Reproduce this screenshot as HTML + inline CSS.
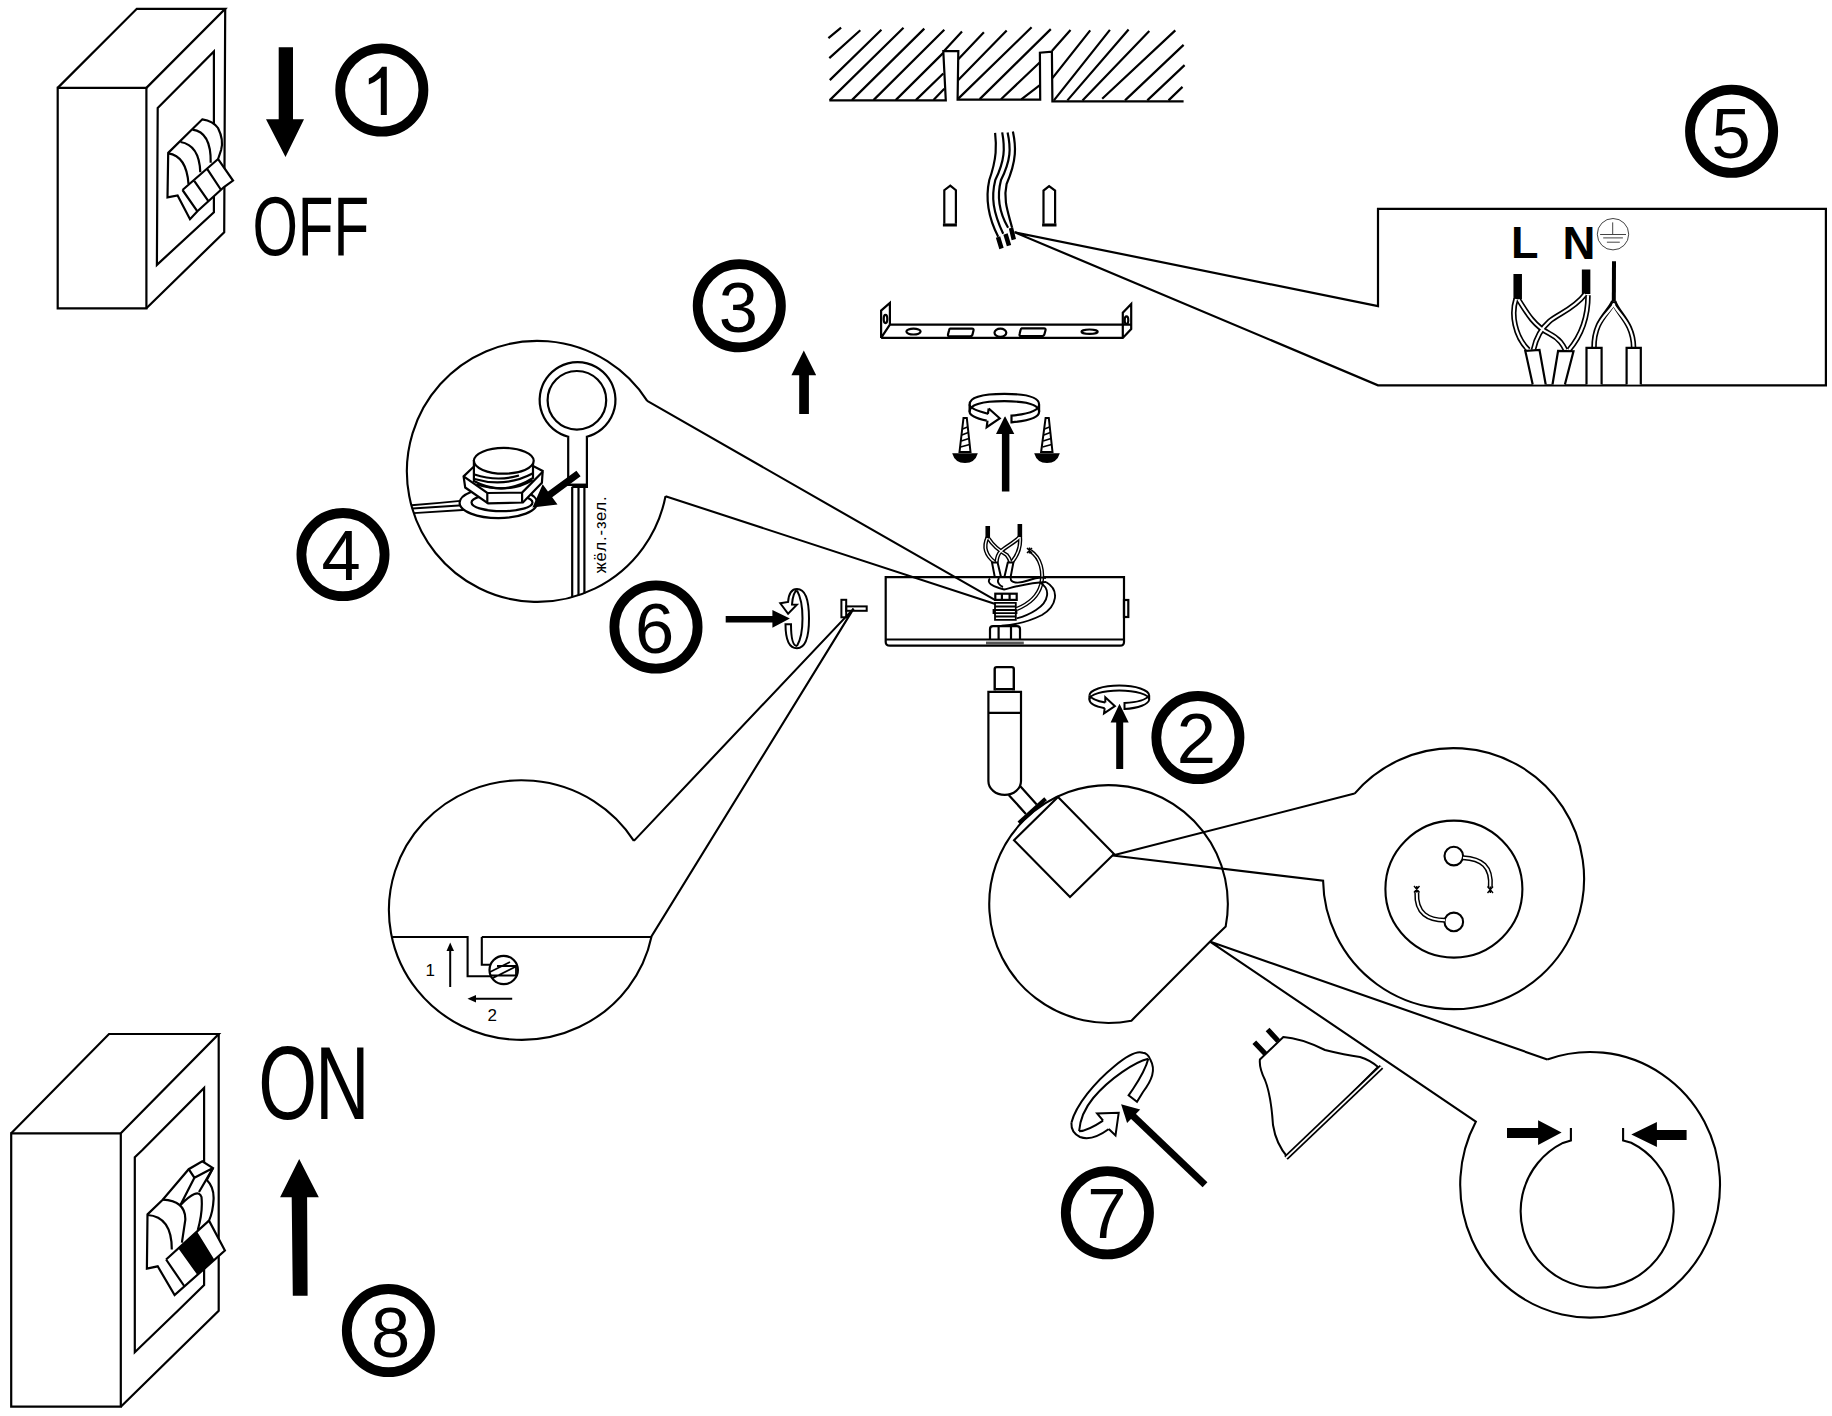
<!DOCTYPE html>
<html><head><meta charset="utf-8">
<style>
html,body{margin:0;padding:0;background:#fff;width:1832px;height:1416px;overflow:hidden}
svg{display:block}
text{font-family:"Liberation Sans",sans-serif}
</style></head><body>
<svg width="1832" height="1416" viewBox="0 0 1832 1416">
<rect width="1832" height="1416" fill="#fff"/>
<g fill="none" stroke="#000" stroke-width="2.2" stroke-linejoin="miter">
<!-- SWITCH 1 -->
<g id="sw1">
<path d="M57.7,87.9 H146.4 V308.3 H57.7 Z"/>
<path d="M57.7,87.9 L136.8,8.8 H225.2 L146.4,87.9"/>
<path d="M225.2,8.8 L224.2,232.2 L146.4,308.3"/>
<path d="M157.7,108 L213.9,51.5 V212.2 L156.9,264.9 Z"/>
<path d="M168.2,152.9 L202.3,119.3 Q213.2,121 218,128 Q224,140 221.1,150 L218.1,159 L233,180.6 L224,187 L197.4,211.3 L190,219.2 L177.6,195.4 L167.5,197.4 Z" fill="#fff"/>
<path d="M168.2,153.4 Q186.5,156 188.5,184 M180.5,142 Q199.3,145 200.3,172.2 M192.4,129.7 Q211.2,132 210.7,162.8"/>
<path d="M182.5,190 L218.1,159 M182.5,190 L197.4,211.3 M194.4,181.1 L208.2,200.9 M207.3,169.2 L221.1,190"/>
</g>
<!-- SWITCH 8 -->
<g id="sw8">
<path d="M11.2,1133.3 H120.8 V1406.7 H11.2 Z"/>
<path d="M11.2,1133.3 L109,1034 H218.7 L120.8,1133.3"/>
<path d="M218.7,1034 V1310.8 L120.8,1406.7"/>
<path d="M134.8,1157.3 L142.4,1150 L204.1,1088 V1285 L178.6,1310 L134.8,1352.2 Z"/>
<path d="M147.5,1214.4 L162.7,1199.7 L188.7,1169.2 L202.3,1161.3 L213,1168.1 L206.8,1180 Q214,1187 213.6,1199 Q213,1212 209,1220.6 L224.9,1250.5 L174.6,1295.1 L157.7,1266.3 L146.9,1268.6 Z" fill="#fff"/>
<path d="M179.7,1248.3 L196.6,1233 L213,1259.5 L197.8,1273.7 Z" fill="#000"/>
<path d="M166.1,1259.5 L209,1220.6 M166.1,1259.5 L184.2,1286 M147.5,1215 Q171.8,1216.6 171.8,1249.4 M162.7,1199.7 Q186,1201 185.3,1220 L181.9,1242.6 M180.3,1205.3 Q198,1187 201.5,1197 Q203,1212 197.8,1230 M188.7,1169.2 L194.4,1177.7 L213,1168.1 M194.4,1177.7 L180.3,1205.3 M213,1168.1 L199,1192"/>
</g>

<!-- ARROWS solid -->
<g fill="#000" stroke="none">
<path d="M278.7,47.2 H293 V119.3 H304 L285.5,157 L266,119.3 H278.7 Z"/>
<path d="M292.8,1295.8 L291.7,1197.2 H280.1 L299.2,1159 L318.8,1197.2 H307.1 L307.6,1295.8 Z"/>
<path d="M799.2,414 V375.3 H791.4 L803.8,350.4 L816.2,375.3 H808.9 V414 Z"/>
<path d="M1001.9,491.4 V434.1 H996 L1005,415.9 L1014.3,434.1 H1009.4 V491.4 Z"/>
<path d="M1116.2,769 V722.4 H1110.6 L1119.5,703.8 L1128.7,722.4 H1123.2 V769 Z"/>
<path d="M725.7,616 H772.4 V609.9 L789.9,618.6 L772.4,627.8 V622.6 H725.7 Z"/>
</g>
<!-- CIRCLED NUMBERS -->
<g stroke-width="9.8">
<circle cx="381.8" cy="90" r="41.6"/>
<circle cx="1731.6" cy="131.3" r="41.6"/>
<circle cx="739.3" cy="305.8" r="41.6"/>
<circle cx="343" cy="554.6" r="41.6"/>
<circle cx="656" cy="627" r="41.6"/>
<circle cx="1197.9" cy="737.6" r="41.6"/>
<circle cx="1107.4" cy="1212.8" r="41.6"/>
<circle cx="388.4" cy="1330.6" r="41.6"/>
</g>
<g fill="#000" stroke="none" font-size="70.5" text-anchor="middle">
<path d="M380.8,66.7 H386.8 V114.9 H380.8 V77.6 Q375,82.5 368.8,84.5 V78.5 Q376.5,75 382,66.7 Z"/>
<text x="1731.2" y="157.8">5</text>
<text x="738.4" y="332">3</text>
<text x="341.2" y="580.2">4</text>
<text x="654.7" y="653.2">6</text>
<text x="1196.4" y="762.8">2</text>
<text x="1106.9" y="1238.4">7</text>
<text x="390.7" y="1357">8</text>
<text transform="translate(252.4,255) scale(0.70,1)" font-size="83.5" text-anchor="start">OFF</text>
<text transform="translate(258.3,1119) scale(0.727,1)" font-size="104" letter-spacing="-3" text-anchor="start">ON</text>
</g>

<!-- CEILING -->
<g id="ceiling">
<path d="M829.3,100.4 H945.8 L943.3,51.2 H958.3 L957.6,99.7 H1040.2 L1039.9,52.7 L1051.9,51.6 L1052.4,101.4 H1183.6"/>
<path d="M828.4,38.2 L841.1,27.7 M829.3,58.1 L860.3,30.3 M829.8,80.1 L881.4,29.8 M829.8,100.1 L903.5,27.7 M851.9,100.1 L924.3,28.6 M873.5,100.1 L944.3,29.8 M895.7,100.1 L943.3,52.9 M915.8,100.1 L943.3,73.5 M933.5,100.1 L944.3,88.8 M943.8,51.2 L962,31.6 M958.3,59.3 L983.9,32.3 M958.3,79.9 L1006.7,30.4 M958.3,98.6 L1031.6,27.3 M979.7,99.1 L1050.8,29.1 M1001,99.3 L1040.2,62 M1021.3,99.3 L1040.2,84.8 M1051.9,51.1 L1070.5,29.9 M1052.4,78.1 L1090.2,30.4 M1053.9,100.4 L1109.9,29.9 M1067.4,100.4 L1128.6,29.5 M1082.5,100.4 L1149.3,30.9 M1102.2,98.8 L1175.3,30.4 M1125,100.4 L1183.6,44.9 M1147.3,100.4 L1184.6,65.1 M1168.5,100.4 L1182.5,86.9"/>
</g>
<!-- DOWELS -->
<path d="M944.3,223.8 V190.2 L950.3,185.7 L955.9,190.2 V223.8 M1043.5,223.8 V190.6 L1049.1,186.2 L1055.1,190.6 V223.8"/>
<path d="M942.9,225 H956.9 M1042.1,225 H1056.5" stroke-width="3"/>
<!-- WIRES -->
<g stroke-width="2.2">
<path d="M995.1,132.9 C996.5,145 997,158 989.3,180 C986,195 987,215 998.2,236.7"/>
<path d="M1002.2,132.4 C1005,148 1005,160 995.3,180 C991,197 993,212 1003.2,233.7"/>
<path d="M1007.6,132.4 C1011,148 1011,160 1001,180 C997,195 999,212 1008.1,227.8"/>
<path d="M1012.9,131.4 C1016,146 1017,160 1006.6,184 C1003,200 1008,212 1012.1,227.8"/>
</g>
<path d="M998,237 L1001.5,248.5 M1005.5,234 L1009,245.6 M1011,228 L1013.8,239.6" stroke-width="4.5"/>
<!-- BRACKET -->
<g stroke-width="2.2">
<path d="M881.1,337.9 H1122.8 L1131.2,329 V304 L1122.8,312.8 V337.9 M881.1,337.9 L889.9,324.6 H1130.9 M881.1,337.9 V310.6 L889.9,303 V324.6"/>
<ellipse cx="885.5" cy="319" rx="1.8" ry="4.1"/>
<ellipse cx="1126.5" cy="320.2" rx="1.8" ry="3.8"/>
<ellipse cx="913.5" cy="331.6" rx="7.1" ry="2.9"/>
<path d="M950,328.6 H972 Q974,328.6 973.5,330.5 L972.5,334.5 Q972,336.4 970,336.4 H949.5 Q947.6,336.4 948,334.5 L949,330.5 Q949.3,328.6 950,328.6 Z"/>
<ellipse cx="1000.4" cy="332.7" rx="5.9" ry="4.1"/>
<path d="M1021.5,328.3 H1044 Q1046,328.3 1045.5,330.3 L1044.5,334 Q1044,336 1042,336 H1021 Q1019,336 1019.6,334 L1020.5,330.3 Q1021,328.3 1021.5,328.3 Z"/>
<ellipse cx="1089.6" cy="331.7" rx="8.1" ry="2.2"/>
</g>
<!-- BOX 5 -->
<path d="M1014.5,232.2 L1378,306.2 V208.8 H1825.9 V385.3 H1378 L1014.5,232.2"/>

<!-- BOX 5 internals -->
<g fill="#000" stroke="none" font-weight="bold">
<text x="1511" y="257.5" font-size="45">L</text>
<text x="1562.5" y="259" font-size="45.6">N</text>
</g>
<g stroke-width="1" stroke="#444">
<circle cx="1613" cy="234.2" r="15.7"/>
<path d="M1612.7,222.4 V234.5 M1600.1,234.5 H1626 M1603.2,237.9 H1622.9 M1606.9,242.2 H1619.8"/>
</g>
<path d="M1517.7,274 V299 M1586.1,269.4 V294.1" stroke-width="8.5"/>
<path d="M1614,261.3 L1613.8,301.5" stroke-width="4"/>
<g id="w5" stroke-width="5.5">
<path d="M1516,299 C1511,313.8 1514.5,336.1 1528.5,350"/>
<path d="M1518.5,299.5 C1527.2,313.8 1534.6,326.2 1549.4,333.6 C1560,339 1563,345 1565.5,350"/>
<path d="M1585.2,294.1 C1574.1,308.9 1558.1,313.8 1549.4,321.3 C1540.8,328.7 1535.8,338.5 1533.4,350"/>
<path d="M1588,295.3 C1588,313.8 1584,332.4 1569,350"/>
<path d="M1613.7,301.5 C1608.7,313.8 1593.9,320 1594,348"/>
<path d="M1613.7,301.5 C1617.4,313.8 1633.4,322.5 1633.6,348"/>
</g>
<g stroke="#fff" stroke-width="2.2">
<path d="M1516,299 C1511,313.8 1514.5,336.1 1528.5,350"/>
<path d="M1518.5,299.5 C1527.2,313.8 1534.6,326.2 1549.4,333.6 C1560,339 1563,345 1565.5,350"/>
<path d="M1585.2,294.1 C1574.1,308.9 1558.1,313.8 1549.4,321.3 C1540.8,328.7 1535.8,338.5 1533.4,350"/>
<path d="M1588,295.3 C1588,313.8 1584,332.4 1569,350"/>
<path d="M1614.5,303.5 C1608.7,313.8 1593.9,320 1594,348"/>
<path d="M1613,303.5 C1617.4,313.8 1633.4,322.5 1633.6,348"/>
</g>
<g stroke-width="2.2" fill="#fff">
<path d="M1532.7,384.5 L1525.3,350.9 L1539.5,349.9 L1545.7,384.5"/>
<path d="M1552.5,384.5 L1558.1,350.9 L1573.5,351.2 L1564.9,384.5"/>
<path d="M1586.5,384.5 V347.8 H1601.6 V384.5"/>
<path d="M1626.6,384.5 V347.8 H1640.8 V384.5"/>
</g>

<!-- CALLOUT 4 -->
<g stroke-width="2.2">
<!-- ring terminal -->
<path d="M568.2,436.7 A37.9,37.9 0 1 1 586.9,436.7 V484.8 H568.2 Z"/>
<circle cx="576.9" cy="400.3" r="29.3"/>
<path d="M572.2,486.8 V597.3 M578.5,486.8 V595.5 M584.4,486.8 V593.4"/>
<path d="M568.2,484.8 H586.9 V486.8 H572.2"/>
<!-- wires left -->
<path d="M411.5,505.3 Q435,503.5 460.4,500.9 M412.5,508.5 Q436,507 462.8,505.3 M413.7,513.1 Q438,511.5 466.7,509.7" stroke-width="1.9"/>
<!-- washer -->
<ellipse cx="498.4" cy="502.8" rx="38.8" ry="15.3" fill="#fff"/>
<ellipse cx="502" cy="502.5" rx="30.5" ry="8.7" fill="#fff"/>
<!-- hex nut -->
<path d="M463.6,476.4 L473.1,467.3 L533.2,466.1 L542.7,470.9 L541.9,482.7 L522.9,502.5 L488.1,503.3 L465.2,487.5 Z" fill="#fff"/>
<path d="M463.6,476.4 L487.3,493 L522.1,492.6 L542.7,471.7 M487.3,493 V503.3 M522.1,492.6 V502.5"/>
<!-- threaded cap -->
<path d="M473.9,461 V481 Q503,497 533,478 V461 Z" fill="#fff"/>
<ellipse cx="503.8" cy="460.8" rx="29.9" ry="12.9" fill="#fff"/>
<path d="M474.5,474.5 Q497,482 519,475.5 M474.5,479 Q505,488 532.5,473.5 M476.5,484.5 Q510,494 532.5,480"/>
<!-- arrow -->
<path d="M576.4,470.7 L580.6,476.3 L552.2,497.2 L557.5,504.5 L532.4,507.4 L542.7,484.3 L548,491.6 Z" fill="#000" stroke="none"/>
</g>
<text transform="translate(606,573.3) rotate(-90)" font-size="16.5" textLength="77" lengthAdjust="spacing" fill="#000" stroke="none">жёл.-зел.</text>

<!-- CALLOUTS -->
<g stroke-width="2.1">
<path d="M647.2,400.9 A130.5,130.5 0 1 0 665.5,496.2 M647.2,400.9 L995.3,600.2 M665.5,496.2 L995.3,604"/>
<path d="M633.9,840.9 A132.7,129.8 0 1 0 651.6,936.2 L853.6,608.6 L633.9,840.9"/>
<path d="M392.2,937 H467.6 V976.2 H503 M481.8,937 V964.7 H492 M481.8,937 H651.6"/>
<path d="M1131.4,1020.7 A119.3,118.9 0 1 1 1225.7,926.4 L1210.4,941.2 Z" fill="#fff"/>
<path d="M1014,840.2 L1058,797 L1114,854 L1070,897.1 Z" fill="#fff"/>
<path d="M1354.6,793.6 A130.5,130.5 0 1 1 1323.1,880.8 L1112.6,855.5 L1354.6,793.6"/>
<path d="M1547.3,1059.4 A129.9,132.8 0 1 1 1475.8,1121.7 L1210.4,941.8 L1547.3,1059.4"/>
</g>

<!-- ROTATION RING (3) + SCREWS -->
<g stroke-width="2.2">
<path d="M999.7,418.3 L987.9,413.8 Q969.6,409 969.6,404.5 Q969.6,393.9 1004.4,393.9 Q1039.1,393.9 1039.1,404.5 V411.8 Q1039.1,420 1011.5,422.4 V415.6 Q1039.1,413 1039.1,404.5" fill="#fff"/>
<path d="M969.6,404.5 V411.8 Q969.6,417 986.7,420.7"/>
<path d="M969.6,411.8 Q969.6,401.2 1004.4,401.2 Q1039.1,401.2 1039.1,411.8"/>
<path d="M988.7,408.5 L999.7,418.3 L986.7,427.2 L987.5,420.7 M988.7,408.5 L987.9,413.8" fill="#fff"/>
</g>
<g fill="#000" stroke="none">
<path d="M952.2,453.2 H977.8 Q975,463 965,463 Q955,463 952.2,453.2 Z"/>
<path d="M1034.2,453.2 H1059.8 Q1057,463 1047,463 Q1037,463 1034.2,453.2 Z"/>
</g>
<g stroke-width="2">
<path d="M963.5,417.9 H966.8 L970.5,452 H959.5 Z"/>
<path d="M1045.6,417.9 H1048.8 L1052.5,452 H1041.1 Z"/>
<path d="M962.5,429 L967.5,427 M961.8,435 L968.3,432.5 M961.2,441 L969,438.5 M960.5,447 L969.6,444.5" stroke-width="1.6"/>
<path d="M1044.5,429 L1049.5,427 M1043.8,435 L1050.3,432.5 M1043.2,441 L1051,438.5 M1042.5,447 L1051.6,444.5" stroke-width="1.6"/>
</g>
<!-- CANOPY -->
<g stroke-width="2.2">
<path d="M885.7,577.2 H1124 V642 Q1124,645.7 1120,645.7 H890 Q885.7,645.7 885.7,642 Z"/>
<path d="M885.7,639.5 H1124"/>
<rect x="986" y="641.6" width="37.8" height="3" fill="#555" stroke="none"/>
<rect x="1124" y="600" width="4.3" height="17"/>
<path d="M990,639.4 V629 Q990,626.1 993,626.1 H1017 Q1020,626.1 1020,629 V639.4 M998.6,626.1 V639.4 M1011,626.1 V639.4"/>
<rect x="995.3" y="593.7" width="21.4" height="6.2"/>
<path d="M1001.9,593.7 V599.9 M1009.6,593.7 V599.9"/>
<path d="M995,602.8 H1015.8 V619.8 H995 Z M994.3,606.5 H1015.8 M993.5,610 H1016.5 V613.2 H993.5 Z M994.3,616.5 H1015.8" stroke-width="1.8"/>
</g>
<!-- canopy wires -->
<g stroke-width="4.2">
<path d="M987.5,537.5 C984,545 984,554 994.8,562.4"/><path d="M988.6,538.5 C993.7,546.6 1000,551 1006.7,555 C1008.5,557 1009.5,559 1010.6,562.4"/><path d="M1020,537 C1021,548 1017,556 1011.7,562.4"/><path d="M1019.7,537 C1014.6,542.6 1005,547 1000.4,551.7 C998,554 997,557 996.5,562.4"/><path d="M1030.5,551 C1041,558 1044,572 1041,585 C1038,596 1029,604 1016.7,609"/>
</g>
<g stroke-width="1.4" stroke="#fff">
<path d="M987.5,537.5 C984,545 984,554 994.8,562.4"/><path d="M988.6,538.5 C993.7,546.6 1000,551 1006.7,555 C1008.5,557 1009.5,559 1010.6,562.4"/><path d="M1020,537 C1021,548 1017,556 1011.7,562.4"/><path d="M1019.7,537 C1014.6,542.6 1005,547 1000.4,551.7 C998,554 997,557 996.5,562.4"/><path d="M1030.5,551 C1041,558 1044,572 1041,585 C1038,596 1029,604 1016.7,609"/>
</g>
<path d="M1046,582 C1060,590 1057,606 1042,615 C1030,621 1015,625 1001.5,625.6 M1040,582.5 C1051,589 1049,602 1036,610 C1030,614 1022,617 1016.7,618.4" stroke-width="1.9"/>
<g stroke-width="2" fill="#fff">
<path d="M992,562.4 H997.6 L1001,577.1 H994.8 Z"/>
<path d="M1007.8,562.4 H1013.4 L1010.6,577.1 H1004.4 Z"/>
</g>
<g stroke-width="1.9">
<path d="M990,578.5 C986,583 993,586 999,588 L1004,589.5 C1018,586 1030,582.5 1046,582"/>
<path d="M999,578 C996,582 1000,586 1003,587"/>
<path d="M1010.8,578 C1010,583 1018,584 1028,580.5 C1035,578 1042,577 1046,578"/>
</g>
<path d="M1027,548 L1032,553 M1027,553 L1032,548 M1029.5,547.5 V553.5" stroke-width="1.5"/>
<path d="M987.75,525.9 V538 M1019.85,524 V537" stroke-width="4.6"/>
<!-- CORD -->
<g stroke-width="2.2">
<path d="M994.7,690.6 V669 Q994.7,667.1 996.7,667.1 H1011.8 Q1013.8,667.1 1013.8,669 V690.6" stroke-width="2.4"/>
<path d="M988.4,691.9 H1021 V780.9 A16.3,14 0 0 1 988.4,780.9 Z M988.4,712.9 H1021 M995.5,689.2 H1013"/>
<path d="M1008.7,794.9 L1025.9,814 M1020.1,786 L1036.7,804.4"/>
<path d="M1018.9,822.9 L1045.6,798.7" stroke-width="4"/>
</g>

<!-- CALLOUT RIGHT (socket) -->
<g stroke-width="2.1">
<circle cx="1453.9" cy="889.1" r="68.5"/>
<circle cx="1453.8" cy="856.1" r="9.3"/>
<circle cx="1453.8" cy="921.9" r="9.3"/>
</g>
<path d="M1463,857.7 C1481.8,858.6 1491.9,866.5 1490.3,887.3 M1445,920.3 C1428.5,920 1415.8,914 1416.8,892.3" stroke-width="5"/>
<path d="M1463,857.7 C1481.8,858.6 1491.9,866.5 1490.3,887.3 M1445,920.3 C1428.5,920 1415.8,914 1416.8,892.3" stroke-width="2" stroke="#fff"/>
<path d="M1487.5,893 L1493,886.5 M1487.5,886.5 L1493,893 M1490.3,886.5 V893 M1414,886 L1419.5,892.5 M1414,892.5 L1419.5,886 M1416.8,886 V892.5" stroke-width="1.4"/>
<!-- CALLOUT C-RING -->
<g stroke-width="2.1">
<path d="M1570.9,1128.1 V1140.4 L1562.9,1142.9 A76.5,76.5 0 1 0 1631.2,1142.8 L1623.1,1140.4 V1128.1"/>
</g>
<g fill="#000" stroke="none">
<path d="M1507,1128.1 H1538.1 V1120.3 L1561.6,1132.6 L1538.1,1144.9 V1137.9 H1507 Z"/>
<path d="M1686.6,1130.1 H1656.9 V1121.9 L1631.3,1134.6 L1656.9,1146.9 V1140 H1686.6 Z"/>
</g>
<!-- CALLOUT 6 -->
<g stroke-width="2.2">
<circle cx="503.7" cy="970" r="14.2" fill="#fff"/>
<path d="M490,972 L510,962 M493,978 L515,967 M491,975.5 H516 V966 H497" stroke-width="1.8"/>
<path d="M450.2,987 V950" stroke-width="2"/>
<path d="M446.5,951 L450.2,942.5 L454,951 Z" fill="#000" stroke="none"/>
<path d="M512.2,998.8 H475" stroke-width="2"/>
<path d="M476,995 L467.5,998.8 L476,1002.5 Z" fill="#000" stroke="none"/>
</g>
<g fill="#000" stroke="none" font-size="17">
<text x="425.5" y="976">1</text>
<text x="487.5" y="1021">2</text>
</g>
<!-- ring 6 + screw -->
<g stroke-width="2">
<path d="M797,589 Q809,589 809,618.6 Q809,648.3 797,648.3 Q785.5,648.3 785.5,624.3 L791,624.3 Q791,646 797,646"/>
<path d="M797,590.5 Q802.5,600 802.5,618.6 Q802.5,637 797,646"/>
<path d="M797,589 Q789,589 788.1,602 L780.3,603.3 L788.1,613.8 L796.9,604.7 L792,604.5 Q793,592 797,590.5"/>
<rect x="841.4" y="599.8" width="4.8" height="17.5"/>
<rect x="846.2" y="606.4" width="20.5" height="4.4"/>
</g>
<!-- ring 2 -->
<g stroke-width="2" fill="none">
<path d="M1089.4,695.5 A29.9,10 0 0 1 1149.2,695.5 V699.5 A29.9,10 0 0 1 1124.5,709 V703 A29.9,10 0 0 0 1149.2,695.5"/>
<path d="M1089.4,695.5 V699.5 A29.9,10 0 0 0 1104.7,708.2 M1089.4,695.5 A29.9,10 0 0 0 1105.3,702.5"/>
<path d="M1089.4,699.5 A29.9,9 0 0 1 1149.2,699.5"/>
<path d="M1105.3,702.5 L1105.3,697.3 L1114.9,706.2 L1104,713.4 L1104.7,708.2"/>
</g>
<!-- RING 7 -->
<g stroke-width="2">
<path d="M1071.4,1122.7 C1076,1105 1095,1082 1114.4,1066.2 C1128,1055 1138,1051 1142.7,1052.8 C1146,1053 1149,1056 1150.5,1060 C1156,1070 1152,1080 1143,1092 L1137,1101.8 L1128.6,1095.4 L1133,1089 C1141,1077 1146,1068 1148.3,1058.8"/>
<path d="M1148.3,1058.8 C1135,1062 1110,1078 1093.2,1098 C1085,1108 1080,1120 1079.1,1131.2"/>
<path d="M1071.4,1122.7 C1071,1130 1074,1134 1080,1137 C1088,1140 1098,1137 1108.8,1129 M1079.1,1131.2 C1086,1131 1095,1126 1103.1,1120.6"/>
<path d="M1103.1,1120.6 L1097.1,1113.5 L1118.7,1112.8 L1115.5,1135.4 L1108.8,1129" fill="#fff"/>
</g>
<path d="M1205,1184.8 L1132,1115" stroke-width="7"/>
<path d="M1121.1,1104.3 L1140.2,1109.6 L1127.1,1123 Z" fill="#000" stroke="none"/>
<!-- BULB -->
<g stroke-width="2">
<path d="M1259.9,1059.5 L1283.3,1037.1 Q1300,1038 1325,1050 Q1345,1055 1360,1057 Q1370,1060 1378,1067 L1287.8,1157.5 Q1276,1144 1273,1125 Q1271,1095 1265,1080 Q1259,1068 1259.9,1059.5 Z" fill="#fff"/>
<path d="M1381.5,1066.8 L1286,1157.8" stroke-width="5.2"/>
<path d="M1381.5,1066.8 L1286,1157.8" stroke-width="1.8" stroke="#fff"/>
<path d="M1254.3,1042.3 L1265.5,1054 M1267.6,1029.6 L1278.2,1041" stroke-width="5.2"/>
</g>

</g>
</svg>
</body></html>
